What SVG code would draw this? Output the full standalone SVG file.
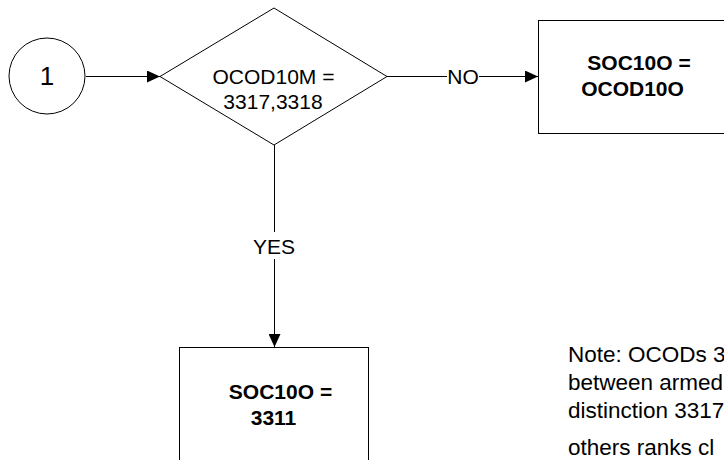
<svg xmlns="http://www.w3.org/2000/svg" width="724" height="460" viewBox="0 0 724 460">
  <defs>
    <marker id="arrow" markerWidth="13" markerHeight="12" refX="13" refY="6" orient="auto" markerUnits="userSpaceOnUse">
      <path d="M0,0 L13,6 L0,12 Z" fill="#000"/>
    </marker>
    <style>
      .shape { fill: #fff; stroke: #000; stroke-width: 1; }
      .conn { fill: none; stroke: #000; stroke-width: 1; }
      .t { font-family: "Liberation Sans", Arial, sans-serif; font-size: 21px; fill: #000; text-anchor: middle; }
      .b { font-weight: bold; }
      .note { font-family: "Liberation Sans", Arial, sans-serif; font-size: 22.5px; fill: #000; }
    </style>
  </defs>
  <rect width="724" height="460" fill="#fff"/>

  <g id="connectors">
    <line class="conn" x1="86" y1="76.5" x2="160" y2="76.5" marker-end="url(#arrow)"/>
    <line class="conn" x1="387" y1="76.5" x2="447" y2="76.5"/>
    <line class="conn" x1="479" y1="76.5" x2="538" y2="76.5" marker-end="url(#arrow)"/>
    <text class="t" x="463" y="84">NO</text>
    <line class="conn" x1="274.5" y1="145" x2="274.5" y2="232"/>
    <line class="conn" x1="274.5" y1="259" x2="274.5" y2="347" marker-end="url(#arrow)"/>
    <text class="t" x="274" y="254">YES</text>
  </g>

  <g id="start">
    <circle class="shape" cx="47" cy="76" r="38"/>
    <text class="t" x="47" y="85" style="font-size:26px">1</text>
  </g>

  <g id="decision">
    <polygon class="shape" points="160,76.5 274,8 387,76.5 274,145"/>
    <text class="t" x="273.5" y="84">OCOD10M =</text>
    <text class="t" x="273" y="109">3317,3318</text>
  </g>

  <g id="no-box">
    <rect class="shape" x="538.5" y="20.5" width="200" height="113"/>
    <text class="t b" x="639" y="70">SOC10O =</text>
    <text class="t b" x="632.5" y="96">OCOD10O</text>
  </g>

  <g id="yes-box">
    <rect class="shape" x="179.5" y="347.5" width="189" height="130"/>
    <text class="t b" x="280.5" y="399">SOC10O =</text>
    <text class="t b" x="273.5" y="425">3311</text>
  </g>

  <g id="note">
    <text class="note" x="568" y="362">Note: OCODs 3317</text>
    <text class="note" x="568" y="390">between armed</text>
    <text class="note" x="568" y="418">distinction 3317</text>
    <text class="note" x="568" y="455">others ranks cl</text>
  </g>
</svg>
